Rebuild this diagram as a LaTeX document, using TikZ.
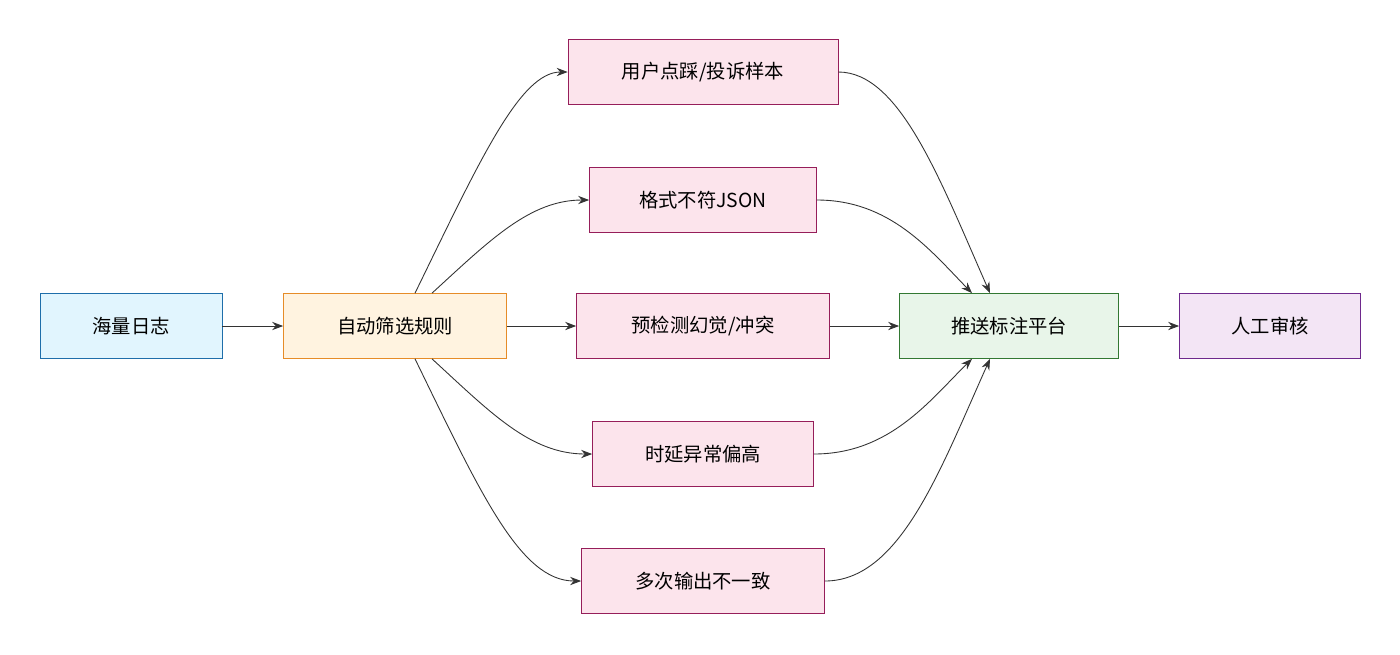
\documentclass[tikz,border=0pt]{standalone}
\usepackage{fontspec}
\setmainfont{Noto Sans CJK SC}
\usetikzlibrary{arrows.meta,positioning}
\definecolor{logblue}{RGB}{225,245,254}
\definecolor{logedge}{RGB}{30,110,170}
\definecolor{filtfill}{RGB}{255,243,224}
\definecolor{filtedge}{RGB}{230,140,40}
\definecolor{casefill}{RGB}{252,228,236}
\definecolor{caseedge}{RGB}{150,30,90}
\definecolor{pushfill}{RGB}{232,245,233}
\definecolor{pushedge}{RGB}{50,120,50}
\definecolor{humfill}{RGB}{243,229,245}
\definecolor{humedge}{RGB}{110,40,140}
\begin{document}
\begin{tikzpicture}[x=0.02cm, y=-0.02cm,
  box/.style={draw, font=\fontsize{11}{13}\selectfont, minimum height=1.3cm, inner sep=0pt},
  case/.style={box, fill=casefill, draw=caseedge},
  arr/.style={-{Stealth[length=2.2mm]}, draw=black!80, line width=0.5pt}]
\useasboundingbox (0,0) rectangle (1400,654);
% Main line
\node[box, fill=logblue, draw=logedge, minimum width=3.64cm] (log) at (131,326) {海量日志};
\node[box, fill=filtfill, draw=filtedge, minimum width=4.46cm] (filt) at (395,326) {自动筛选规则};
\node[box, fill=pushfill, draw=pushedge, minimum width=4.38cm] (push) at (1009,326) {推送标注平台};
\node[box, fill=humfill, draw=humedge, minimum width=3.62cm] (hum) at (1270,326) {人工审核};
% Cases
\node[case, minimum width=5.4cm] (dislike) at (703,72) {用户点踩/投诉样本};
\node[case, minimum width=4.54cm] (json) at (703,200) {格式不符JSON};
\node[case, minimum width=5.06cm] (halluc) at (703,326) {预检测幻觉/冲突};
\node[case, minimum width=4.42cm] (lat) at (703,454) {时延异常偏高};
\node[case, minimum width=4.86cm] (incons) at (703,581) {多次输出不一致};
% Edges
\draw[arr] (log) -- (filt);
\draw[arr] (push) -- (hum);
\draw[arr] (filt) -- (halluc);
\draw[arr] (halluc) -- (push);
\draw[arr] ([xshift=0.4cm]filt.north) .. controls (480,160) and (520,72) .. (dislike.west);
\draw[arr] ([xshift=0.74cm]filt.north) .. controls (490,240) and (530,200) .. (json.west);
\draw[arr] ([xshift=0.74cm]filt.south) .. controls (490,412) and (530,454) .. (lat.west);
\draw[arr] ([xshift=0.4cm]filt.south) .. controls (480,492) and (520,581) .. (incons.west);
\draw[arr] (dislike.east) .. controls (900,72) and (940,180) .. ([xshift=-0.38cm]push.north);
\draw[arr] (json.east) .. controls (890,200) and (930,250) .. ([xshift=-0.74cm]push.north);
\draw[arr] (lat.east) .. controls (890,454) and (930,400) .. ([xshift=-0.74cm]push.south);
\draw[arr] (incons.east) .. controls (900,581) and (940,470) .. ([xshift=-0.38cm]push.south);
\end{tikzpicture}
\end{document}
